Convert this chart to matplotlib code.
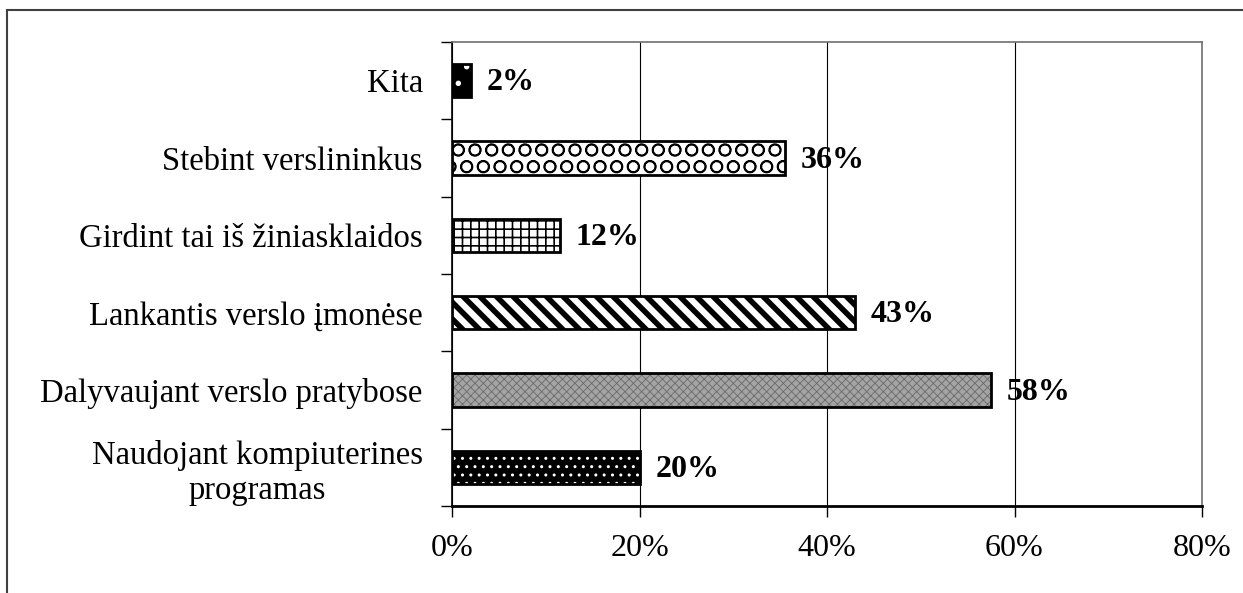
import numpy as np
import matplotlib
matplotlib.use("Agg")
import matplotlib.pyplot as plt
from matplotlib.patches import Rectangle
from matplotlib.ticker import FixedLocator, PercentFormatter

# ---------------------------------------------------------------------------
# Data (bottom to top)
# ---------------------------------------------------------------------------
categories = [
    "Naudojant kompiuterines\nprogramas",
    "Dalyvaujant verslo pratybose",
    "Lankantis verslo įmonėse",
    "Girdint tai iš žiniasklaidos",
    "Stebint verslininkus",
    "Kita",
]
values = [20, 57.5, 43, 11.5, 35.5, 2]
value_labels = ["20%", "58%", "43%", "12%", "36%", "2%"]

# fill style per bar: (facecolor, hatch colour, hatch, hatch linewidth)
styles = [
    ("black",   "white",   "..",   1.0),
    ("#a4a4a4", "#6a6a6a", "xxxx", 0.6),
    ("white",   "black",   "\\\\", 4.0),
    ("white",   "black",   "++",   1.2),
    ("white",   "black",   "O",    1.2),
    ("black",   "white",   ".",    1.5),
]

plt.rcParams["font.family"] = ["Liberation Serif", "DejaVu Serif"]

fig = plt.figure(figsize=(12.43, 5.93), dpi=100)
ax = fig.add_axes([452 / 1243, 1 - 506 / 593, 750 / 1243, 464 / 593])

y = np.arange(len(categories))
for yi, v, (fc, hc, h, hlw) in zip(y, values, styles):
    with plt.rc_context({"hatch.linewidth": hlw}):
        b = ax.barh(yi, v, height=0.43, color=fc, edgecolor=hc, hatch=h,
                    linewidth=0, zorder=3)
        for p in b:
            if hasattr(p, "set_hatch_linewidth"):
                p.set_hatch_linewidth(hlw)
    ax.barh(yi, v, height=0.43, fill=False, edgecolor="black", linewidth=2,
            zorder=4)

for yi, v, lab in zip(y, values, value_labels):
    ax.text(v + 1.7, yi - 0.03, lab, ha="left", va="center", fontsize=23,
            fontweight="bold", zorder=5)

ax.set_xlim(0, 80)
ax.set_ylim(-0.5, len(categories) - 0.5)
ax.xaxis.set_major_locator(FixedLocator([0, 20, 40, 60, 80]))
ax.xaxis.set_major_formatter(PercentFormatter(decimals=0))
ax.grid(axis="x", color="black", linewidth=0.8, zorder=0)

ax.set_yticks(y)
ax.set_yticklabels(categories, fontsize=23.5, multialignment="center")
ax.yaxis.set_minor_locator(FixedLocator(np.arange(-0.5, len(categories), 1.0)))
ax.tick_params(axis="y", which="major", length=0, pad=21)
ax.tick_params(axis="y", which="minor", length=8, width=1, direction="out")
ax.tick_params(axis="x", length=8, width=1, direction="out", pad=12,
               labelsize=23)

for s in ["top", "right"]:
    ax.spines[s].set_color("#707070")
    ax.spines[s].set_linewidth(1.2)
ax.spines["left"].set_linewidth(1.2)
ax.spines["bottom"].set_linewidth(2)

# outer chart frame (top and left edges visible)
fig.patches.append(Rectangle((7 / 1243, -0.2), 1.2, 1.2 - 10 / 593,
                             transform=fig.transFigure, fill=False,
                             edgecolor="#404040", linewidth=1.5))

fig.savefig("out.png", dpi=100)
